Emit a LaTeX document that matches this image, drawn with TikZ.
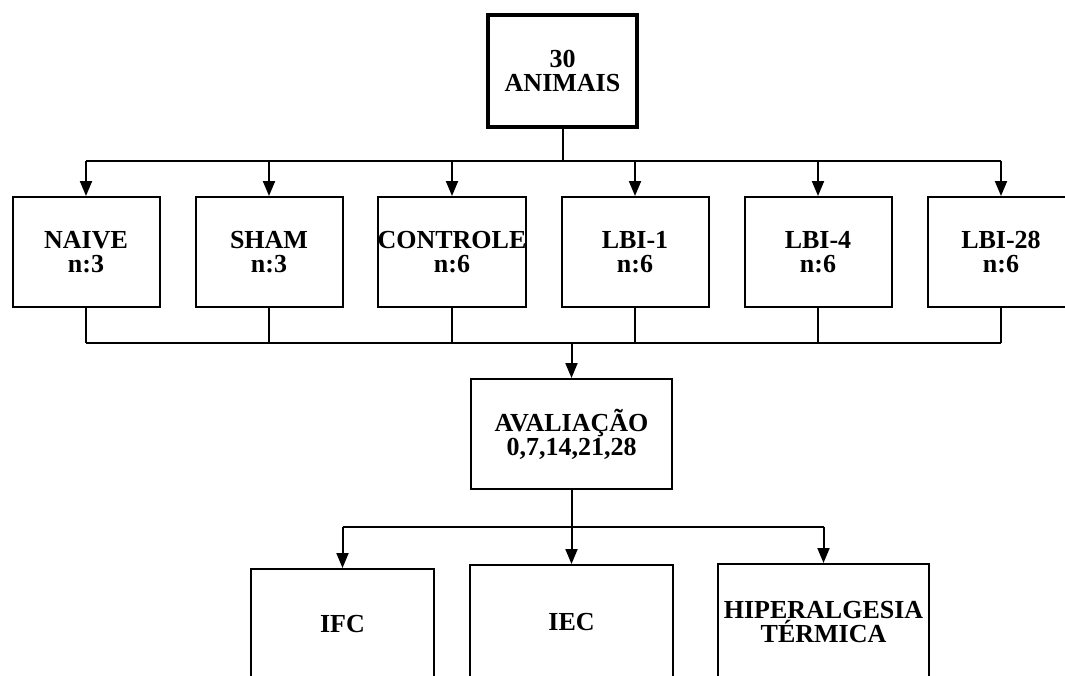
\documentclass[tikz,border=0pt]{standalone}
\usepackage{fontspec}
\setmainfont{Liberation Serif}
\usetikzlibrary{arrows.meta}
\begin{document}
\begin{tikzpicture}[x=1pt,y=-1pt,
  box/.style={draw, line width=2pt, inner sep=0pt, align=center,
    font=\fontsize{26}{24}\selectfont\bfseries},
  rowbox/.style={box, minimum width=147pt, minimum height=110pt},
  conn/.style={line width=2pt},
  arr/.style={conn, -{Triangle[length=15pt,width=12pt]}}]
\useasboundingbox (0,0) rectangle (1065,675);
\clip (0,0) rectangle (1065,675);

\node[box, line width=3.5pt, minimum width=149pt, minimum height=112pt] (top) at (562.5,71) {30\\ANIMAIS};

\node[rowbox] (naive)    at (86,252)  {NAIVE\\n:3};
\node[rowbox] (sham)     at (269,252) {SHAM\\n:3};
\node[rowbox] (controle) at (452,252) {CONTROLE\\n:6};
\node[rowbox] (lbi1)     at (635,252) {LBI-1\\n:6};
\node[rowbox] (lbi4)     at (818,252) {LBI-4\\n:6};
\node[rowbox] (lbi28)    at (1001,252) {LBI-28\\n:6};

\node[box, minimum width=201pt, minimum height=110pt] (aval) at (571.5,434) {AVALIAÇÃO\\0,7,14,21,28};

\node[box, minimum width=183pt, minimum height=111pt] (ifc)   at (342.5,624.5) {IFC};
\node[box, minimum width=203pt, minimum height=115pt] (iec)   at (571.5,622.5) {IEC};
\node[box, minimum width=211pt, minimum height=116pt] (hiper) at (823.5,622)   {HIPERALGESIA\\TÉRMICA};

\coordinate (bar1) at (0,161);
\coordinate (bar2) at (0,343);
\coordinate (bar3) at (0,527);

% top distribution
\draw[conn] (top.south) -- (top.south |- bar1);
\draw[conn] (naive.north |- bar1) -- (lbi28.north |- bar1);
\foreach \n in {naive,sham,controle,lbi1,lbi4,lbi28}
  \draw[arr] (\n.north |- bar1) -- (\n.north);

% collection
\foreach \n in {naive,sham,controle,lbi1,lbi4,lbi28}
  \draw[conn] (\n.south) -- (\n.south |- bar2);
\draw[conn] (naive.south |- bar2) -- (lbi28.south |- bar2);
\draw[arr] (aval.north |- bar2) -- (aval.north);

% evaluation split
\draw[conn] (aval.south) -- (aval.south |- bar3);
\draw[conn] (ifc.north |- bar3) -- (hiper.north |- bar3);
\foreach \n in {ifc,iec,hiper}
  \draw[arr] (\n.north |- bar3) -- (\n.north);
\end{tikzpicture}
\end{document}
